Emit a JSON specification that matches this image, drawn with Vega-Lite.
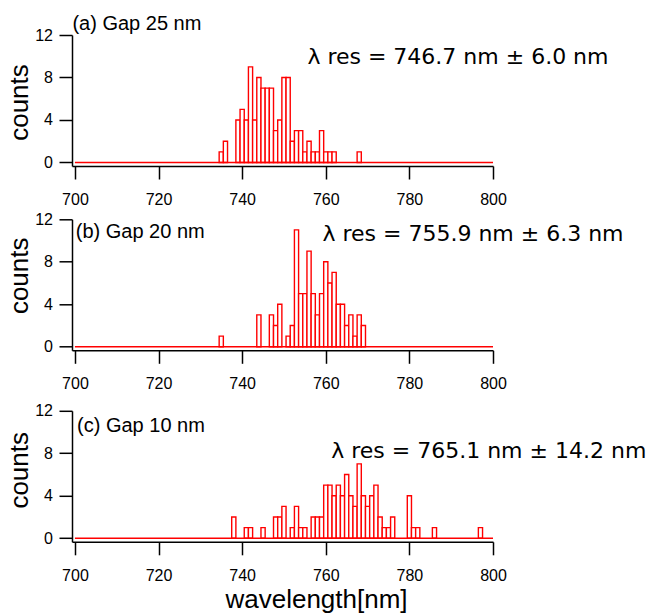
{
  "$schema": "https://vega.github.io/schema/vega-lite/v6.json",
  "background": "white",
  "padding": {"left": 6, "top": 14, "right": 5, "bottom": 5},
  "datasets": {
    "a": [
      {"bin_start": 734.5, "bin_end": 735.5, "counts": 1},
      {"bin_start": 735.5, "bin_end": 736.5, "counts": 2},
      {"bin_start": 738.5, "bin_end": 739.5, "counts": 4},
      {"bin_start": 739.5, "bin_end": 740.5, "counts": 5},
      {"bin_start": 740.5, "bin_end": 741.5, "counts": 4},
      {"bin_start": 741.5, "bin_end": 742.5, "counts": 9},
      {"bin_start": 742.5, "bin_end": 743.5, "counts": 4},
      {"bin_start": 743.5, "bin_end": 744.5, "counts": 8},
      {"bin_start": 744.5, "bin_end": 745.5, "counts": 7},
      {"bin_start": 745.5, "bin_end": 746.5, "counts": 7},
      {"bin_start": 746.5, "bin_end": 747.5, "counts": 7},
      {"bin_start": 747.5, "bin_end": 748.5, "counts": 3},
      {"bin_start": 748.5, "bin_end": 749.5, "counts": 4},
      {"bin_start": 749.5, "bin_end": 750.5, "counts": 8},
      {"bin_start": 750.5, "bin_end": 751.5, "counts": 8},
      {"bin_start": 751.5, "bin_end": 752.5, "counts": 2},
      {"bin_start": 752.5, "bin_end": 753.5, "counts": 3},
      {"bin_start": 753.5, "bin_end": 754.5, "counts": 3},
      {"bin_start": 754.5, "bin_end": 755.5, "counts": 1},
      {"bin_start": 755.5, "bin_end": 756.5, "counts": 2},
      {"bin_start": 756.5, "bin_end": 757.5, "counts": 1},
      {"bin_start": 757.5, "bin_end": 758.5, "counts": 1},
      {"bin_start": 758.5, "bin_end": 759.5, "counts": 3},
      {"bin_start": 759.5, "bin_end": 760.5, "counts": 1},
      {"bin_start": 760.5, "bin_end": 761.5, "counts": 1},
      {"bin_start": 761.5, "bin_end": 762.5, "counts": 1},
      {"bin_start": 767.5, "bin_end": 768.5, "counts": 1}
    ],
    "b": [
      {"bin_start": 734.5, "bin_end": 735.5, "counts": 1},
      {"bin_start": 743.5, "bin_end": 744.5, "counts": 3},
      {"bin_start": 746.5, "bin_end": 747.5, "counts": 3},
      {"bin_start": 747.5, "bin_end": 748.5, "counts": 2},
      {"bin_start": 748.5, "bin_end": 749.5, "counts": 4},
      {"bin_start": 750.5, "bin_end": 751.5, "counts": 1},
      {"bin_start": 751.5, "bin_end": 752.5, "counts": 2},
      {"bin_start": 752.5, "bin_end": 753.5, "counts": 11},
      {"bin_start": 753.5, "bin_end": 754.5, "counts": 5},
      {"bin_start": 754.5, "bin_end": 755.5, "counts": 5},
      {"bin_start": 755.5, "bin_end": 756.5, "counts": 9},
      {"bin_start": 756.5, "bin_end": 757.5, "counts": 5},
      {"bin_start": 757.5, "bin_end": 758.5, "counts": 3},
      {"bin_start": 758.5, "bin_end": 759.5, "counts": 5},
      {"bin_start": 759.5, "bin_end": 760.5, "counts": 8},
      {"bin_start": 760.5, "bin_end": 761.5, "counts": 6},
      {"bin_start": 761.5, "bin_end": 762.5, "counts": 7},
      {"bin_start": 762.5, "bin_end": 763.5, "counts": 4},
      {"bin_start": 763.5, "bin_end": 764.5, "counts": 4},
      {"bin_start": 764.5, "bin_end": 765.5, "counts": 2},
      {"bin_start": 765.5, "bin_end": 766.5, "counts": 3},
      {"bin_start": 766.5, "bin_end": 767.5, "counts": 1},
      {"bin_start": 767.5, "bin_end": 768.5, "counts": 3},
      {"bin_start": 768.5, "bin_end": 769.5, "counts": 2}
    ],
    "c": [
      {"bin_start": 737.5, "bin_end": 738.5, "counts": 2},
      {"bin_start": 740.5, "bin_end": 741.5, "counts": 1},
      {"bin_start": 741.5, "bin_end": 742.5, "counts": 1},
      {"bin_start": 744.5, "bin_end": 745.5, "counts": 1},
      {"bin_start": 747.5, "bin_end": 748.5, "counts": 2},
      {"bin_start": 748.5, "bin_end": 749.5, "counts": 2},
      {"bin_start": 749.5, "bin_end": 750.5, "counts": 3},
      {"bin_start": 751.5, "bin_end": 752.5, "counts": 1},
      {"bin_start": 752.5, "bin_end": 753.5, "counts": 3},
      {"bin_start": 753.5, "bin_end": 754.5, "counts": 1},
      {"bin_start": 754.5, "bin_end": 755.5, "counts": 1},
      {"bin_start": 756.5, "bin_end": 757.5, "counts": 2},
      {"bin_start": 757.5, "bin_end": 758.5, "counts": 2},
      {"bin_start": 758.5, "bin_end": 759.5, "counts": 2},
      {"bin_start": 759.5, "bin_end": 760.5, "counts": 5},
      {"bin_start": 760.5, "bin_end": 761.5, "counts": 5},
      {"bin_start": 761.5, "bin_end": 762.5, "counts": 4},
      {"bin_start": 762.5, "bin_end": 763.5, "counts": 5},
      {"bin_start": 763.5, "bin_end": 764.5, "counts": 4},
      {"bin_start": 764.5, "bin_end": 765.5, "counts": 6},
      {"bin_start": 765.5, "bin_end": 766.5, "counts": 4},
      {"bin_start": 766.5, "bin_end": 767.5, "counts": 3},
      {"bin_start": 767.5, "bin_end": 768.5, "counts": 7},
      {"bin_start": 768.5, "bin_end": 769.5, "counts": 4},
      {"bin_start": 769.5, "bin_end": 770.5, "counts": 3},
      {"bin_start": 770.5, "bin_end": 771.5, "counts": 4},
      {"bin_start": 771.5, "bin_end": 772.5, "counts": 5},
      {"bin_start": 772.5, "bin_end": 773.5, "counts": 2},
      {"bin_start": 773.5, "bin_end": 774.5, "counts": 1},
      {"bin_start": 774.5, "bin_end": 775.5, "counts": 1},
      {"bin_start": 775.5, "bin_end": 776.5, "counts": 2},
      {"bin_start": 779.5, "bin_end": 780.5, "counts": 4},
      {"bin_start": 780.5, "bin_end": 781.5, "counts": 1},
      {"bin_start": 781.5, "bin_end": 782.5, "counts": 1},
      {"bin_start": 785.5, "bin_end": 786.5, "counts": 1},
      {"bin_start": 796.5, "bin_end": 797.5, "counts": 1}
    ]
  },
  "config": {
    "view": {"stroke": null},
    "axis": {
      "domainColor": "black", "domainWidth": 1.5, "tickColor": "black", "tickWidth": 1.5,
      "labelColor": "black", "labelFont": "Liberation Sans", "labelFontSize": 16,
      "titleFont": "Liberation Sans", "titleFontWeight": "normal", "titleColor": "black", "grid": false
    },
    "axisX": {"tickSize": 13, "labelPadding": 12.5, "labelFlush": false, "labelOverlap": false},
    "axisY": {"labelPadding": 6.5, "labelFlush": false, "labelOverlap": false}
  },
  "bounds": "flush",
  "spacing": 53.3,
  "vconcat": [
    {
      "width": 421, "height": 131,
      "layer": [
        {
          "data": {"name": "a"},
          "mark": {"type": "rect", "fill": "white", "stroke": "#ff0000", "strokeWidth": 1.4},
          "encoding": {
            "x": {"field": "bin_start", "type": "quantitative", "scale": {"domain": [699.3, 800], "nice": false, "zero": false},
                  "axis": {"values": [700, 720, 740, 760, 780, 800], "title": null}},
            "x2": {"field": "bin_end"},
            "y": {"field": "counts", "type": "quantitative", "scale": {"domain": [-0.33, 12], "nice": false, "zero": false},
                  "axis": {"values": [0, 2, 4, 6, 8, 10, 12], "labelExpr": "datum.value % 4 === 0 ? datum.label : ''",
                           "tickSize": {"condition": {"test": "datum.value % 4 === 0", "value": 13}, "value": 7.5},
                           "title": "counts", "titleFontSize": 26, "titlePadding": 2, "titleY": 67}},
            "y2": {"datum": 0}
          }
        },
        {
          "data": {"values": [{}]},
          "mark": {"type": "rule", "color": "#ff0000", "strokeWidth": 1.5},
          "encoding": {"x": {"datum": 700}, "x2": {"datum": 800}, "y": {"datum": 0}}
        },
        {
          "data": {"values": [{}]},
          "mark": {"type": "text", "text": "(a) Gap 25 nm", "align": "left", "baseline": "alphabetic", "font": "Liberation Sans", "fontSize": 20, "color": "black"},
          "encoding": {"x": {"datum": 699.4}, "y": {"datum": 12.45}}
        },
        {
          "data": {"values": [{}]},
          "mark": {"type": "text", "text": "λ res = 746.7 nm ± 6.0 nm", "align": "left", "baseline": "alphabetic", "font": "DejaVu Sans", "fontSize": 22, "color": "black"},
          "encoding": {"x": {"datum": 755.6}, "y": {"datum": 9.3}}
        }
      ]
    },
    {
      "bounds": "flush",
      "spacing": 60.5,
      "vconcat": [
        {
          "width": 421, "height": 131,
          "layer": [
            {
              "data": {"name": "b"},
              "mark": {"type": "rect", "fill": "white", "stroke": "#ff0000", "strokeWidth": 1.4},
              "encoding": {
                "x": {"field": "bin_start", "type": "quantitative", "scale": {"domain": [699.3, 800], "nice": false, "zero": false},
                      "axis": {"values": [700, 720, 740, 760, 780, 800], "title": null}},
                "x2": {"field": "bin_end"},
                "y": {"field": "counts", "type": "quantitative", "scale": {"domain": [-0.33, 12], "nice": false, "zero": false},
                      "axis": {"values": [0, 2, 4, 6, 8, 10, 12], "labelExpr": "datum.value % 4 === 0 ? datum.label : ''",
                               "tickSize": {"condition": {"test": "datum.value % 4 === 0", "value": 13}, "value": 7.5},
                               "title": "counts", "titleFontSize": 26, "titlePadding": 2, "titleY": 56}},
                "y2": {"datum": 0}
              }
            },
            {
              "data": {"values": [{}]},
              "mark": {"type": "rule", "color": "#ff0000", "strokeWidth": 1.5},
              "encoding": {"x": {"datum": 700}, "x2": {"datum": 800}, "y": {"datum": 0}}
            },
            {
              "data": {"values": [{}]},
              "mark": {"type": "text", "text": "(b) Gap 20 nm", "align": "left", "baseline": "alphabetic", "font": "Liberation Sans", "fontSize": 20, "color": "black"},
              "encoding": {"x": {"datum": 700.2}, "y": {"datum": 10.27}}
            },
            {
              "data": {"values": [{}]},
              "mark": {"type": "text", "text": "λ res = 755.9 nm ± 6.3 nm", "align": "left", "baseline": "alphabetic", "font": "DejaVu Sans", "fontSize": 22, "color": "black"},
              "encoding": {"x": {"datum": 759.2}, "y": {"datum": 10.0}}
            }
          ]
        },
        {
          "width": 421, "height": 131,
          "layer": [
            {
              "data": {"name": "c"},
              "mark": {"type": "rect", "fill": "white", "stroke": "#ff0000", "strokeWidth": 1.4},
              "encoding": {
                "x": {"field": "bin_start", "type": "quantitative", "scale": {"domain": [699.3, 800], "nice": false, "zero": false},
                      "axis": {"values": [700, 720, 740, 760, 780, 800], "title": "wavelength[nm]", "titleFontSize": 26,
                               "titleX": 244, "titleY": 66, "titleAlign": "center", "titleBaseline": "alphabetic"}},
                "x2": {"field": "bin_end"},
                "y": {"field": "counts", "type": "quantitative", "scale": {"domain": [-0.33, 12], "nice": false, "zero": false},
                      "axis": {"values": [0, 2, 4, 6, 8, 10, 12], "labelExpr": "datum.value % 4 === 0 ? datum.label : ''",
                               "tickSize": {"condition": {"test": "datum.value % 4 === 0", "value": 13}, "value": 7.5},
                               "title": "counts", "titleFontSize": 26, "titlePadding": 2, "titleY": 59}},
                "y2": {"datum": 0}
              }
            },
            {
              "data": {"values": [{}]},
              "mark": {"type": "rule", "color": "#ff0000", "strokeWidth": 1.5},
              "encoding": {"x": {"datum": 700}, "x2": {"datum": 800}, "y": {"datum": 0}}
            },
            {
              "data": {"values": [{}]},
              "mark": {"type": "text", "text": "(c) Gap 10 nm", "align": "left", "baseline": "alphabetic", "font": "Liberation Sans", "fontSize": 20, "color": "black"},
              "encoding": {"x": {"datum": 700.5}, "y": {"datum": 9.97}}
            },
            {
              "data": {"values": [{}]},
              "mark": {"type": "text", "text": "λ res = 765.1 nm ± 14.2 nm", "align": "left", "baseline": "alphabetic", "font": "DejaVu Sans", "fontSize": 22, "color": "black"},
              "encoding": {"x": {"datum": 761.3}, "y": {"datum": 7.6}}
            }
          ]
        }
      ]
    }
  ]
}
